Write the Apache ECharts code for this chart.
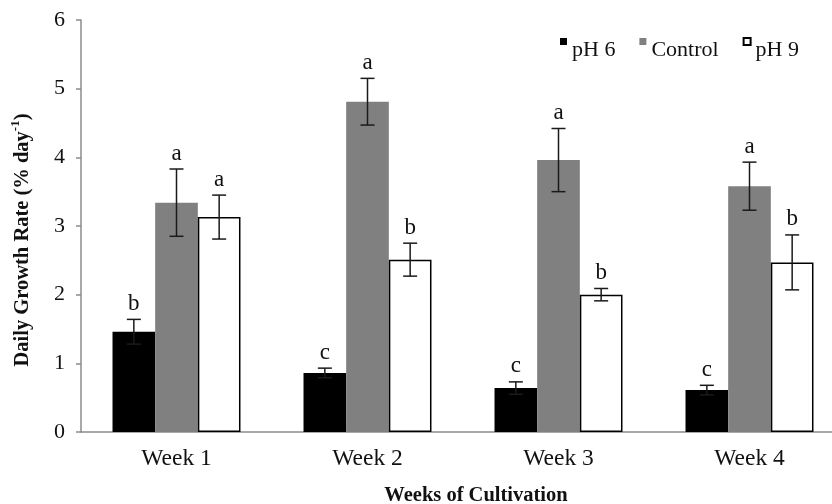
<!DOCTYPE html>
<html>
<head>
<meta charset="utf-8">
<script src="https://cdn.jsdelivr.net/npm/echarts@6/dist/echarts.min.js"></script>
<style>html,body{margin:0;padding:0;background:#fff}#c{width:832px;height:504px}</style>
</head>
<body>
<div id="c"></div>
<script>
const categories = ['Week 1', 'Week 2', 'Week 3', 'Week 4'];
const seriesNames = ['pH 6', 'Control', 'pH 9'];
const ph6 = [1.46, 0.86, 0.64, 0.61];
const ph6Err = [0.18, 0.07, 0.09, 0.07];
const ph6Letters = ['b', 'c', 'c', 'c'];
const control = [3.34, 4.81, 3.96, 3.58];
const controlErr = [0.49, 0.34, 0.46, 0.35];
const controlLetters = ['a', 'a', 'a', 'a'];
const ph9 = [3.13, 2.51, 2.00, 2.47];
const ph9Err = [0.32, 0.24, 0.09, 0.40];
const ph9Letters = ['a', 'b', 'b', 'b'];
const yTicks = [0, 1, 2, 3, 4, 5, 6];

const FONT = "'Liberation Serif', 'Times New Roman', serif";
const GAP = 0.33;

function errSeries(values, errs, letters, offset) {
  return {
    type: 'custom',
    z: 5,
    silent: true,
    clip: false,
    data: values.map((v, i) => [i, v, errs[i]]),
    encode: { x: 0, y: 1 },
    renderItem: function (params, api) {
      const x = api.value(0), v = api.value(1), e = api.value(2);
      const band = api.size([1, 0])[0];
      const bw = band * (1 - GAP) / 3;
      const cx = api.coord([x, v])[0] + offset * bw;
      const top = api.coord([x, v + e])[1];
      const bot = api.coord([x, v - e])[1];
      const cap = 7;
      const st = { stroke: '#1a1a1a', lineWidth: 1.5 };
      return {
        type: 'group',
        children: [
          { type: 'line', shape: { x1: cx, y1: top, x2: cx, y2: bot }, style: st },
          { type: 'line', shape: { x1: cx - cap, y1: top, x2: cx + cap, y2: top }, style: st },
          { type: 'line', shape: { x1: cx - cap, y1: bot, x2: cx + cap, y2: bot }, style: st },
          { type: 'text', style: { text: letters[params.dataIndex], x: cx, y: top - 4, align: 'center', verticalAlign: 'bottom', font: '23px ' + FONT, fill: '#111' } }
        ]
      };
    }
  };
}

const chart = echarts.init(document.getElementById('c'));
chart.setOption({
  animation: false,
  backgroundColor: '#fff',
  grid: { left: 81, width: 764, top: 20, bottom: 72, containLabel: false, outerBoundsMode: 'none' },
  legend: {
    data: seriesNames,
    left: 555,
    top: 32,
    itemWidth: 7,
    itemHeight: 7,
    itemGap: 24,
    icon: 'rect',
    formatter: '{t|{name}}',
    textStyle: {
      fontFamily: FONT, fontSize: 22, color: '#111',
      rich: { t: { fontFamily: FONT, fontSize: 22, color: '#111', padding: [17, 0, 0, 0] } }
    }
  },
  xAxis: {
    type: 'category',
    data: categories,
    axisTick: { show: false },
    axisLine: { lineStyle: { color: '#8c8c8c', width: 1.5 } },
    axisLabel: { fontFamily: FONT, fontSize: 23.5, color: '#111', margin: 15 },
    name: 'Weeks of Cultivation',
    nameLocation: 'middle',
    nameGap: 53,
    nameTextStyle: { fontFamily: FONT, fontSize: 20.5, fontWeight: 'bold', color: '#111', padding: [0, 0, 0, 26] }
  },
  yAxis: {
    type: 'value',
    min: yTicks[0],
    max: yTicks[yTicks.length - 1],
    interval: 1,
    splitLine: { show: false },
    axisLine: { show: true, lineStyle: { color: '#8c8c8c', width: 1.5 } },
    axisTick: { show: true, length: 5, lineStyle: { color: '#8c8c8c', width: 1.5 } },
    axisLabel: { fontFamily: FONT, fontSize: 22, color: '#111', margin: 16 },
    name: '{b|Daily Growth Rate (% day}{s|-1}{b|)}',
    nameLocation: 'middle',
    nameGap: 48,
    nameRotate: 90,
    nameTextStyle: {
      fontFamily: FONT, fontSize: 20, fontWeight: 'bold', color: '#111',
      padding: [0, 28, 0, 0],
      rich: {
        b: { fontFamily: FONT, fontSize: 20.5, fontWeight: 'bold', color: '#111', lineHeight: 24, verticalAlign: 'bottom' },
        s: { fontFamily: FONT, fontSize: 13, fontWeight: 'bold', color: '#111', lineHeight: 24, verticalAlign: 'top', padding: [0, 0, 8, 0] }
      }
    }
  },
  series: [
    { name: 'pH 6', type: 'bar', data: ph6, barGap: '0%', barCategoryGap: (GAP * 100) + '%', itemStyle: { color: '#000' } },
    { name: 'Control', type: 'bar', data: control, barGap: '0%', barCategoryGap: (GAP * 100) + '%', itemStyle: { color: '#808080' } },
    { name: 'pH 9', type: 'bar', data: ph9, barGap: '0%', barCategoryGap: (GAP * 100) + '%', itemStyle: { color: '#fff', borderColor: '#000', borderWidth: 1.5 } },
    errSeries(ph6, ph6Err, ph6Letters, -1),
    errSeries(control, controlErr, controlLetters, 0),
    errSeries(ph9, ph9Err, ph9Letters, 1)
  ]
});
</script>
</body>
</html>
